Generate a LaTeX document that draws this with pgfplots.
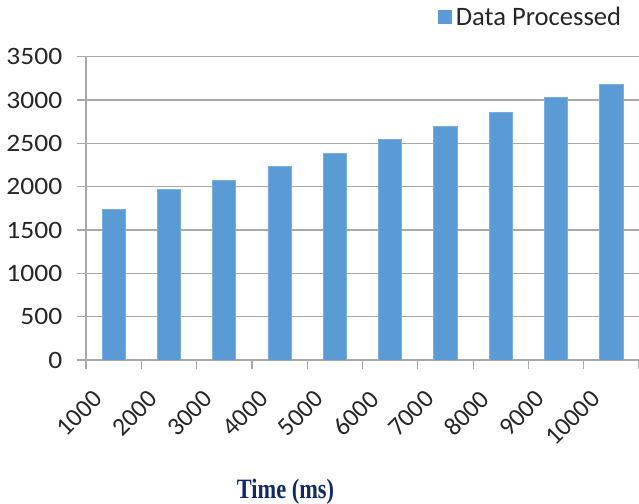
\documentclass[border=0pt]{standalone}
\usepackage{fontspec}
\setmainfont{Carlito}
\newfontfamily\titlefont{Liberation Serif}
\usepackage{pgfplots}
\pgfplotsset{compat=1.18}
\usepackage{pgfplotstable}

\definecolor{barblue}{HTML}{5B9BD5}
\definecolor{baredge}{HTML}{7AAEE0}
\definecolor{gridgray}{HTML}{A8A8A8}
\definecolor{labelgray}{HTML}{262626}
\definecolor{titlenavy}{HTML}{0F2A66}

\pgfplotstableread{
idx value
0 1740
1 1965
2 2070
3 2230
4 2385
5 2550
6 2700
7 2860
8 3025
9 3175
}\datatable

\begin{document}
\begin{tikzpicture}
\useasboundingbox (0pt,0pt) rectangle (319.5pt,252pt);
\begin{axis}[
  at={(43pt,72pt)}, anchor=south west,
  scale only axis,
  width=276.5pt, height=151.65pt,
  xmin=-0.5, xmax=9.5,
  ymin=0, ymax=3500,
  ytick={0,500,...,3500},
  xtick={0,...,9},
  xticklabels={1000,2000,3000,4000,5000,6000,7000,8000,9000,10000},
  minor xtick={-0.5,0.5,...,9.5},
  major x tick style={draw=none},
  axis x line*=bottom,
  axis y line*=left,
  axis line style={gridgray, line width=0.6pt},
  tick align=outside,
  major tick length=4.5pt,
  minor tick length=4.5pt,
  tick style={gridgray, line width=0.6pt},
  ymajorgrids,
  major grid style={gridgray, line width=0.6pt},
  /pgf/number format/assume math mode=true,
  scaled y ticks=false,
  yticklabel style={font=\fontsize{12.5}{12.5}\selectfont, text=labelgray, xshift=-3.5pt, xscale=1.1},
  xticklabel style={font=\fontsize{12.8}{12.8}\selectfont, text=labelgray, anchor=east, xshift=-5.5pt, yshift=-10.5pt, rotate=45},
  yticklabel={\pgfmathprintnumber[fixed,1000 sep={}]{\tick}},
  legend style={at={(axis description cs:0.625,1.13)}, anchor=west, draw=none, fill=none,
    font=\fontsize{13.3}{13.3}\selectfont, text=labelgray},
  legend image code/.code={\fill[barblue] (0pt,-3.25pt) rectangle (6.5pt,3.25pt);},
]
\addplot[ybar, bar width=0.42, fill=barblue, draw=baredge, line width=0.4pt] table[x=idx, y=value] {\datatable};
\addlegendentry{Data Processed}
\end{axis}
\node[anchor=base, text=titlenavy, font=\titlefont\bfseries\fontsize{14}{14}\selectfont, xscale=0.8] at (142.75pt,2.5pt) {Time (ms)};
\end{tikzpicture}
\end{document}
